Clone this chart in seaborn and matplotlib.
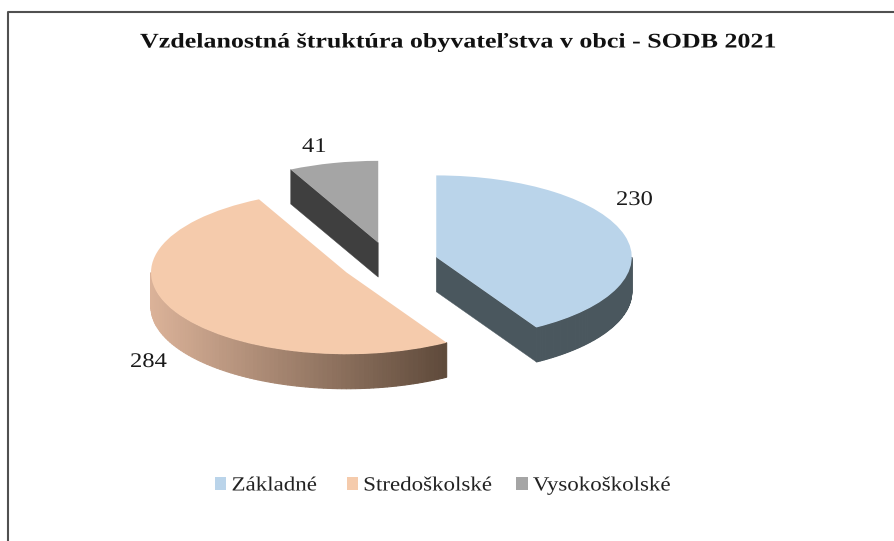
import numpy as np
import matplotlib
matplotlib.use('Agg')
import matplotlib.pyplot as plt
import seaborn as sns
from matplotlib.patches import Polygon
from matplotlib.patheffects import AbstractPathEffect
from matplotlib.transforms import Affine2D

categories = ['Základné', 'Stredoškolské', 'Vysokoškolské']
values = [230, 284, 41]
top_colors = ['#bad4ea', '#f5cbac', '#a5a5a5']
title_text = 'Vzdelanostná štruktúra obyvateľstva v obci - SODB 2021'

sns.set_theme(style='white')
plt.rcParams['font.family'] = ['Liberation Serif', 'DejaVu Serif']

W, H = 895, 541
squash = 82 / 196  # tilt of the pie
depth = 34.5 / squash


class StretchX(AbstractPathEffect):
    # the reference text is wider than the font, stretch it from its left end
    def __init__(self, sx):
        super().__init__()
        self.sx = sx

    def draw_path(self, renderer, gc, tpath, affine, rgbFace=None):
        renderer.draw_path(gc, tpath, Affine2D().scale(self.sx, 1) + affine, rgbFace)


fig = plt.figure(figsize=(W / 100, H / 100), dpi=100)
ax = fig.add_axes([0, 0, 1, 1])

wedges, label_texts = ax.pie(values, labels=[str(v) for v in values], colors=top_colors,
                             explode=[48.5, 49, 49], radius=195.5, center=(389.5, -262.6 / squash),
                             startangle=90, counterclock=False, labeldistance=1.1,
                             wedgeprops={'linewidth': 0, 'zorder': 5},
                             textprops={'fontsize': 15, 'color': '#1a1a1a'})
ax.set_aspect('auto')
ax.set_xlim(0, W)
ax.set_ylim(-H / squash, 0)


def ring(w, a, b, n=80):
    t = np.radians(np.linspace(a, b, n))
    return w.center[0] + w.r * np.cos(t), w.center[1] + w.r * np.sin(t)


def radial_wall(w, angle, color):
    x, y = ring(w, angle, angle, 2)
    cx, cy = w.center
    ax.add_patch(Polygon([(cx, cy), (x[0], y[0]), (x[0], y[0] - depth), (cx, cy - depth)],
                         closed=True, fc=color, ec=color, lw=0.3, zorder=2))


def arc_wall(w, a, b, c_from, c_to, n=90):
    # thin slices along the rim so the side can carry a gradient
    t = np.linspace(a, b, n + 1)
    c_from, c_to = np.array(c_from), np.array(c_to)
    x0 = w.center[0] + w.r * np.cos(np.radians(a))
    x1 = w.center[0] + w.r * np.cos(np.radians(b))
    for i in range(n):
        x, y = ring(w, t[i], t[i + 1], 2)
        f = ((x[0] + x[1]) / 2 - x0) / (x1 - x0)
        col = c_from + (c_to - c_from) * f
        ax.add_patch(Polygon([(x[0], y[0]), (x[1], y[1]), (x[1], y[1] - depth), (x[0], y[0] - depth)],
                             closed=True, fc=col, ec=col, lw=0.8, zorder=3))


blue, peach, gray = wedges
blue_side = (0.29, 0.34, 0.37)
radial_wall(gray, gray.theta2, '#3f3f3f')
radial_wall(blue, blue.theta1, blue_side)
arc_wall(blue, blue.theta1, 0, blue_side, blue_side)
arc_wall(peach, -180, peach.theta2, (0.86, 0.70, 0.60), (0.37, 0.29, 0.23))

label_pos = [(616, 205), (130, 367), (302, 152)]
for t, (px, py) in zip(label_texts, label_pos):
    t.set_position((px, -py / squash))
    t.set_ha('left')
    t.set_va('baseline')
    t.set_path_effects([StretchX(1.18)])

ax.text(140, -47.5 / squash, title_text, fontsize=15, fontweight='bold', color='#111111',
        ha='left', va='baseline', path_effects=[StretchX(1.247)])

leg = ax.legend(wedges, categories, loc='center left', bbox_to_anchor=(215 / W, 1 - 486 / H),
                ncol=3, frameon=False, fontsize=14.5, handlelength=0.57, handleheight=0.57,
                handletextpad=0.25, columnspacing=2.0, labelspacing=0, borderpad=0, borderaxespad=0)
for t in leg.get_texts():
    t.set_color('#222222')
    t.set_path_effects([StretchX(1.14)])

# chart frame, cut off by the screenshot on the right and bottom
ax.plot([8, 8, W], [-H / squash, -12 / squash, -12 / squash], color='#505050', lw=1.5, zorder=1)

fig.savefig('out.png', dpi=100)
